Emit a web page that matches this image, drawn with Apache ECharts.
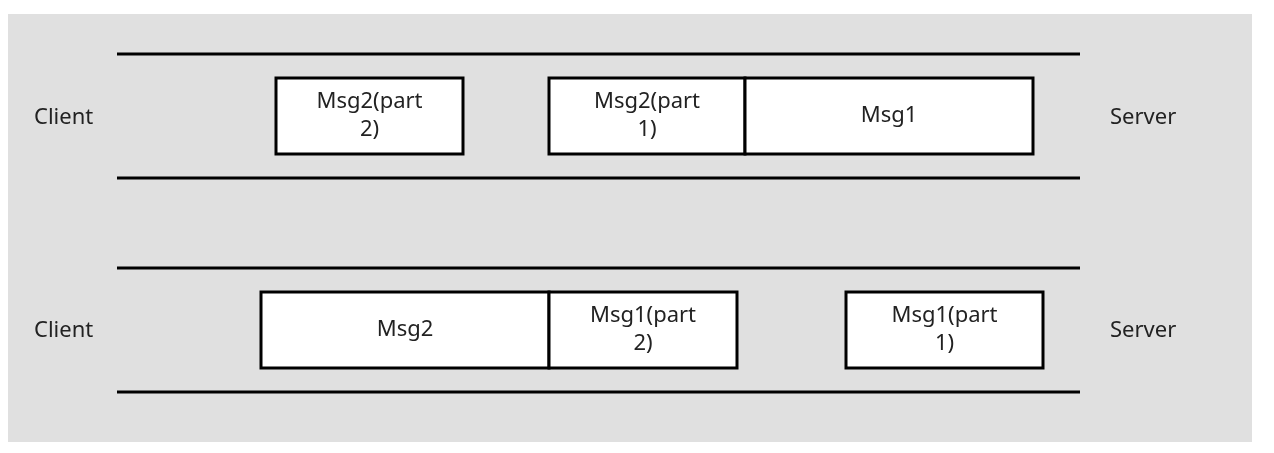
<!DOCTYPE html>
<html><head><meta charset="utf-8">
<script src="https://cdn.jsdelivr.net/npm/echarts@6/dist/echarts.min.js"></script>
<style>html,body{margin:0;padding:0;background:#fff}#c{width:1274px;height:453px}</style>
</head><body><div id="c"></div>
<script>
// Lanes: [y of top rule, y of bottom rule, x start, x end]
const lanes = [[54,178,117,1080],[268,392,117,1080]];
// Boxes: [x0, x1, y0, y1, label]
const boxes = [
  [276,463,78,154,'Msg2(part\n2)'],
  [549,745,78,154,'Msg2(part\n1)'],
  [745,1033,78,154,'Msg1'],
  [261,549,292,368,'Msg2'],
  [549,737,292,368,'Msg1(part\n2)'],
  [846,1043,292,368,'Msg1(part\n1)']
];
// Side labels: [x, y, text]
const sideLabels = [[34,118,'Client'],[1110,118,'Server'],[34,331,'Client'],[1110,331,'Server']];
const background = [[8,1252,14,442]];
const font = '"Noto Sans", sans-serif';
const chart = echarts.init(document.getElementById('c'));
function rectItem(api, x0,x1,y0,y1){
  const p0 = api.coord([x0,y0]), p1 = api.coord([x1,y1]);
  return {x:Math.min(p0[0],p1[0]), y:Math.min(p0[1],p1[1]), width:Math.abs(p1[0]-p0[0]), height:Math.abs(p1[1]-p0[1])};
}
chart.setOption({
  animation:false,
  grid:{left:0,right:0,top:0,bottom:0},
  xAxis:{type:'value',min:0,max:1274,show:false},
  yAxis:{type:'value',min:0,max:453,inverse:true,show:false},
  series:[
    {type:'custom',data:background,renderItem:(p,api)=>({type:'rect',shape:rectItem(api,api.value(0),api.value(1),api.value(2),api.value(3)),style:{fill:'#e0e0e0'}})},
    {type:'custom',data:lanes,renderItem:(p,api)=>{
      const a=api.coord([api.value(2),api.value(0)]), b=api.coord([api.value(3),api.value(0)]);
      const c=api.coord([api.value(2),api.value(1)]), d=api.coord([api.value(3),api.value(1)]);
      return {type:'group',children:[
        {type:'line',shape:{x1:a[0],y1:a[1],x2:b[0],y2:b[1]},style:{stroke:'#000',lineWidth:3}},
        {type:'line',shape:{x1:c[0],y1:c[1],x2:d[0],y2:d[1]},style:{stroke:'#000',lineWidth:3}}
      ]};
    }},
    {type:'custom',data:boxes,renderItem:(p,api)=>{
      const r=rectItem(api,api.value(0),api.value(1),api.value(2),api.value(3));
      return {type:'group',children:[
        {type:'rect',shape:r,style:{fill:'#fff',stroke:'#000',lineWidth:3}},
        {type:'text',x:r.x+r.width/2,y:r.y+r.height/2,style:{text:boxes[p.dataIndex][4],align:'center',verticalAlign:'middle',font:'22px '+font,fill:'#222',lineHeight:28}}
      ]};
    }},
    {type:'custom',data:sideLabels,renderItem:(p,api)=>{
      const a=api.coord([api.value(0),api.value(1)]);
      return {type:'text',x:a[0],y:a[1],style:{text:sideLabels[p.dataIndex][2],align:'left',verticalAlign:'middle',font:'22px '+font,fill:'#222'}};
    }}
  ]
});
</script></body></html>
